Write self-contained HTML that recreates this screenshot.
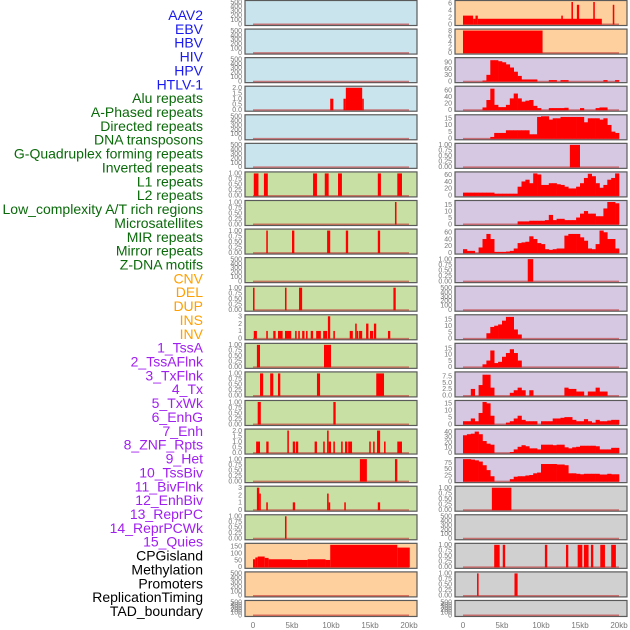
<!DOCTYPE html>
<html><head><meta charset="utf-8"><style>
html,body{margin:0;padding:0;background:#fff;width:630px;height:630px;overflow:hidden}
svg{display:block}
text{font-family:"Liberation Sans",sans-serif}
</style></head><body>
<svg id="chart" width="630" height="630" viewBox="0 0 630 630" xmlns="http://www.w3.org/2000/svg"></svg>
<script>
const labelNames=["AAV2","EBV","HBV","HIV","HPV","HTLV-1","Alu repeats","A-Phased repeats","Directed repeats","DNA transposons","G-Quadruplex forming repeats","Inverted repeats","L1 repeats","L2 repeats","Low_complexity A/T rich regions","Microsatellites","MIR repeats","Mirror repeats","Z-DNA motifs","CNV","DEL","DUP","INS","INV","1_TssA","2_TssAFlnk","3_TxFlnk","4_Tx","5_TxWk","6_EnhG","7_Enh","8_ZNF_Rpts","9_Het","10_TssBiv","11_BivFlnk","12_EnhBiv","13_ReprPC","14_ReprPCWk","15_Quies","CPGisland","Methylation","Promoters","ReplicationTiming","TAD_boundary"];
const labelGroups=[6,13,5,15,5];
const groupColors=["#1a1aee","#0a6a0a","#ffa000","#a020f0","#000000"];
const xTickLabels=["0","5kb","10kb","15kb","20kb"];
const xTickValues=[0,5,10,15,20];
const E=["0","100","200","300","400","500"];
const U=["0.00","0.25","0.50","0.75","1.00"];
const leftBg=["#c9e4ec","#c9e4ec","#c9e4ec","#c9e4ec","#c9e4ec","#c9e4ec","#c8e0a4","#c8e0a4","#c8e0a4","#c8e0a4","#c8e0a4","#c8e0a4","#c8e0a4","#c8e0a4","#c8e0a4","#c8e0a4","#c8e0a4","#c8e0a4","#c8e0a4","#fed09e","#fed09e","#fed09e"];
const rightBg=["#fed09e","#fed09e","#d6c8e2","#d6c8e2","#d6c8e2","#d6c8e2","#d6c8e2","#d6c8e2","#d6c8e2","#d6c8e2","#d6c8e2","#d6c8e2","#d6c8e2","#d6c8e2","#d6c8e2","#d6c8e2","#d6c8e2","#d0d0d0","#d0d0d0","#d0d0d0","#d0d0d0","#d0d0d0"];
const leftTicks=[E,E,E,["0.0","0.5","1.0","1.5","2.0"],E,E,U,U,U,E,U,["0","1","2","3"],U,U,U,["0.0","0.5","1.0","1.5","2.0"],U,["0","1","2","3"],U,["0","50","100","150"],E,E];
const leftMax=[500,500,500,2,500,500,1,1,1,500,1,3,1,1,1,2,1,3,1,160,500,500];
const rightTicks=[["0","2","4","6"],["0","2","4","6","8"],["0","30","60","90"],["0","20","40","60"],["0","5","10","15"],U,["0","20","40","60"],["0","5","10","15"],["0","20","40","60"],U,E,["0","5","10","15"],["0","5","10","15"],["0.0","2.5","5.0","7.5"],["0","5","10","15"],["0","10","20","30","40"],["0","25","50","75"],U,E,U,U,E];
const rightMax=[6.3,8,105,68,16.5,1,63,17,65,1,500,17.5,17.5,8.5,16,42,90,1,500,1,1,500];
// segments [startKb,endKb,value]
const leftSegs=[[],[],[],
[[9.9,10.3,1],[11.6,11.9,1],[11.9,14.0,2],[14.0,14.2,1]],[],[],
[[0.1,0.7,1],[1.4,1.9,1],[7.7,8.2,1],[9.2,9.7,1],[10.9,11.4,1],[16,16.4,1],[18.5,19.1,1]],
[[18.2,18.4,1]],
[[1.7,1.9,1],[5.0,5.3,1],[9.5,9.9,1],[11.9,12.2,1],[16.0,16.3,1]],
[],
[[0,0.2,1],[4.1,4.3,1],[5.9,6.3,1],[18.0,18.3,1]],
[[0.1,0.5,1],[1.7,1.9,1],[2.6,2.9,1],[3.2,3.8,1],[4.1,4.9,1],[5.4,5.6,1],[5.8,6.0,1],[6.3,6.6,1],[6.8,7.0,1],[7.4,7.7,1],[8.1,8.7,1],[9.0,9.5,1],[9.6,9.9,3],[10.3,10.5,1],[12.4,12.8,1],[13.1,13.3,2],[13.3,13.5,1],[13.6,14.0,1],[14.5,14.8,2],[15.0,15.4,1],[15.5,15.8,2],[17.3,17.6,1]],
[[0.5,0.9,1],[9.1,10.0,1]],
[[0.9,1.3,1],[2.2,2.6,1],[3.2,3.5,1],[8.2,8.6,1],[15.8,16.8,1]],
[[0.6,1.0,1],[10.3,10.6,1]],
[[0.4,0.9,1],[1.7,2.0,1],[4.4,4.6,2],[5.1,5.4,1],[5.5,5.8,1],[7.9,8.2,1],[9.0,9.2,1],[9.5,9.7,2],[9.7,10.0,1],[10.3,10.5,1],[11.3,11.5,1],[11.8,12.1,1],[12.2,12.7,1],[14.9,15.1,1],[15.4,15.6,1],[15.9,16.3,2],[16.8,17.0,1],[18.5,19.1,1]],
[[13.7,14.6,1],[18.2,18.5,1]],
[[0.5,0.8,3],[0.8,1.0,2.2],[1.7,1.9,1],[5.1,5.4,1],[9.5,9.7,2.2],[9.7,9.9,1],[11.7,11.9,1],[16.0,16.3,1]],
[[4.1,4.3,1]],
[[0,0.3,55],[0.3,0.6,68],[0.6,1.5,75],[1.5,2.0,65],[2.0,5.0,55],[5.0,7.0,50],[7.0,9.3,55],[9.3,9.9,50],[9.9,18.5,165],[18.5,20.1,140]],
[],[]];
const rightSegs=[
[[0,1.3,2.4],[1.3,1.6,1.5],[1.6,1.9,2.4],[1.9,17.8,1.5],[12.6,12.8,2.4],[13.9,14.1,7],[14.6,14.9,5.5],[16.7,16.9,7],[19.2,19.4,5.5]],
[[0,10.2,8]],[],[],[],
[[13.7,15.0,1]],[],[],[],
[[8.3,9.0,1]],[],[],[],[],[],[],[],
[[3.7,6.2,1]],[],
[[4.0,4.7,1],[5.1,5.4,1],[10.5,10.8,1],[13.2,13.5,1],[14.7,15.3,1],[15.5,16.1,1],[16.4,16.7,1],[17.6,18.2,1],[19.0,19.6,1]],
[[1.8,2.0,1],[6.6,7.0,1]],[]];
// 0.5kb bins (40 per track)
const rightBins={
2:[0,0,0,0,0,3,30,100,100,95,90,80,65,45,25,8,8,8,8,0,0,0,5,5,0,5,5,0,0,0,0,0,0,0,0,0,5,0,0,5],
3:[0,0,0,0,0,7,30,65,15,8,8,15,35,50,35,25,28,30,12,5,0,0,5,5,5,5,6,0,0,0,5,0,0,0,5,7,7,0,0,0],
4:[0,0,0,0,0,0,0,1,4,4,4,6,6,6,6,6,6,3,3,16,17,17,14,15,15,16,16,16,16,16,16,12,15,15,15,14,15,10,5,4],
6:[8,8,8,8,8,8,8,8,5,5,5,5,5,5,25,40,45,35,65,60,30,30,35,35,32,30,25,20,20,25,35,50,62,55,35,22,30,45,50,65],
7:[0,0,0,0,0,0,0,0,0,0,0,0,0,0,2,2,2,2.5,2.5,2.5,2.5,3,7,3,4,4,3,3,3,5,8,10,8,8,6,6,12,17,17,16],
8:[10,5,5,0,15,40,55,40,2,2,2,3,5,12,28,30,32,48,40,28,25,10,8,10,12,12,50,55,55,55,45,35,12,10,25,65,60,40,40,12],
11:[0,0,0,0,0,0,4,9,10,11,14,17,17,7,3,0,0,0,0,0,0,0,0,0,0,0,0,0,0,0,0,0,0,0,0,0,0,0,0,0],
12:[0,0,0,0,0,2,5,13,3,4,8,11,14,11,5,0,0,0,0,0,0,0,0,0,0,0,0,0,0,0,0,0,0,0,0,0,0,0,0,0],
13:[0,0,2.5,0,4,8,8,3,0,0,0,0,1,2,3,2,0,2,0,0,0,0,0,0,0,0,3,2.5,2.5,1.5,1.5,0,1.5,1.5,3,1.5,1.5,0,0,0],
14:[2,2,4,2,8,16,15,6,0,0,0,1,2,4,6,3,2,2,2,0,2,2,2,4,4,4.5,5,5,3,2,2,3.5,2,1,3,2,2,2.5,3,3],
15:[33,35,36,40,35,22,17,15,0,0,0,0,1,6,11,14,12,8,8,6,15,15,15,14,15,15,10,8,10,11,13,13,13,13,12,6,6,6,9,9],
16:[90,90,88,85,80,65,45,20,0,0,0,0,8,18,20,20,23,25,32,35,70,70,70,70,68,68,65,32,32,30,28,30,30,30,30,27,27,30,28,28]};

const svg=document.getElementById('chart');
const NS="http://www.w3.org/2000/svg";
function mk(tag,attrs,parent){const e=document.createElementNS(NS,tag);for(const k in attrs)e.setAttribute(k,attrs[k]);(parent||svg).appendChild(e);return e;}
const rowStep=28.57, panelW=172, kbPx=7.8;
const colX=[245,455];
function rowTop(i){return i*rowStep+0.5;}
function rowH(i){return i===21?16:25;}

// labels
let li=0;
const labelStep=(611-15)/(labelNames.length-1);
labelGroups.forEach((n,g)=>{for(let k=0;k<n;k++){const t=mk('text',{x:203,y:15+li*labelStep+5,'text-anchor':'end','font-size':'14',fill:groupColors[g]});


t.textContent=labelNames[li];li++;}});

function drawPanel(c,i,bg,ticks,ymax,segs,bins){
  const x0=colX[c],top=rowTop(i),h=rowH(i);
  const xs=kb=>x0+8+kb*kbPx;
  const ys=v=>top+h-1.5-Math.min(v,ymax)/ymax*(h-3);
  const g=mk('g',{});
  
  
  mk('rect',{x:x0,y:top,width:panelW,height:h,fill:bg,stroke:'#5a5a5a','stroke-width':1.2},g);
  ticks.forEach((s,k)=>{const v=parseFloat(s);const t=mk('text',{x:x0-3,y:ys(v)+2.3,'text-anchor':'end','font-size':'7',fill:'#777'},g);
    
    
    t.textContent=s;});
  const base=mk('line',{x1:xs(0),x2:xs(20),y1:ys(0)+0.3,y2:ys(0)+0.3,stroke:'#c03030','stroke-opacity':0.6,'stroke-width':1.5},g);
  
  
  (segs||[]).forEach(s=>{const r=mk('rect',{x:xs(s[0]),y:ys(s[2]),width:Math.max(1,xs(s[1])-xs(s[0])),height:ys(0)-ys(s[2])+0.5,fill:'#ff0000'},g);
    
    });
  if(bins){bins.forEach((v,k)=>{if(v<=0)return;const r=mk('rect',{x:xs(k*0.5),y:ys(v),width:0.5*kbPx+0.3,height:ys(0)-ys(v)+0.5,fill:'#ff0000'},g);
    
    });}
}
for(let i=0;i<22;i++){
  drawPanel(0,i,leftBg[i],leftTicks[i],leftMax[i],leftSegs[i],null);
  drawPanel(1,i,rightBg[i],rightTicks[i],rightMax[i],rightSegs[i],rightBins[i]);
}
[0,1].forEach(c=>{xTickValues.forEach((v,k)=>{const t=mk('text',{x:colX[c]+8+v*kbPx,y:628,'text-anchor':'middle','font-size':'8',fill:'#777'});
  
  
  t.textContent=xTickLabels[k];});});
</script>
</body></html>
